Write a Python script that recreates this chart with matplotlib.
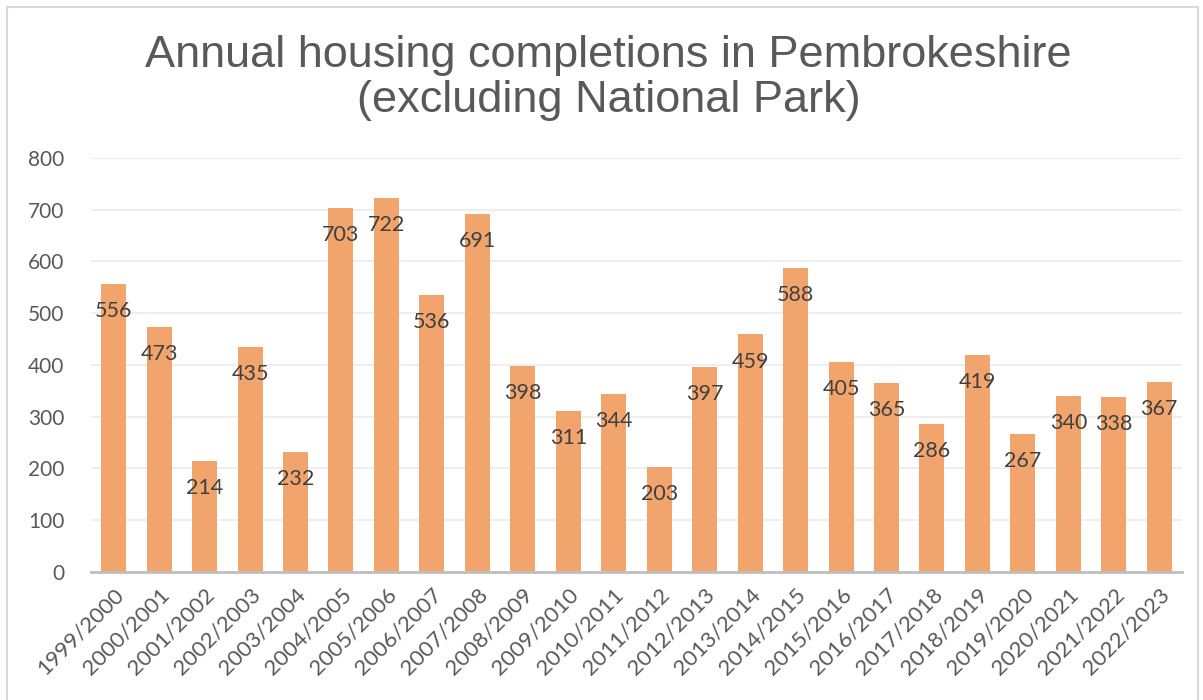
import numpy as np
from matplotlib import pyplot as plt
from matplotlib.patches import Rectangle

years = ['1999/2000', '2000/2001', '2001/2002', '2002/2003', '2003/2004',
         '2004/2005', '2005/2006', '2006/2007', '2007/2008', '2008/2009',
         '2009/2010', '2010/2011', '2011/2012', '2012/2013', '2013/2014',
         '2014/2015', '2015/2016', '2016/2017', '2017/2018', '2018/2019',
         '2019/2020', '2020/2021', '2021/2022', '2022/2023']
completions = [556, 473, 214, 435, 232, 703, 722, 536, 691, 398, 311, 344,
               203, 397, 459, 588, 405, 365, 286, 419, 267, 340, 338, 367]
yticks = [0, 100, 200, 300, 400, 500, 600, 700, 800]

grey = '#595959'
bar_colour = '#F1A46C'
plt.rcParams['font.family'] = ['Lato', 'DejaVu Sans']

fig = plt.figure(figsize=(12.03, 7.0), dpi=100)
ax = fig.add_axes([0.0756, 0.1829, 0.9069, 0.5914])

x = np.arange(len(years))
bars = ax.bar(x, completions, width=0.55, color=bar_colour, zorder=2)

for xi, v in zip(x, completions):
    ax.annotate(str(v), (xi, v), xytext=(0, -19.5), textcoords='offset points',
                ha='center', va='center', fontsize=15.5, color='#404040', zorder=3)

ax.set_ylim(0, 800)
ax.set_xlim(-0.5, len(years) - 0.5)
ax.set_yticks(yticks)
ax.set_yticklabels([str(t) for t in yticks], fontsize=15, color=grey)
ax.set_xticks(x)
ax.set_xticklabels(years, rotation=45, ha='right', rotation_mode='anchor',
                   fontsize=16, color=grey)
ax.tick_params(axis='both', length=0, pad=9)
ax.tick_params(axis='y', pad=19)
ax.yaxis.grid(True, color='#EBEBEB', linewidth=1.2, zorder=0)
ax.set_axisbelow(True)
for s in ['top', 'right', 'left']:
    ax.spines[s].set_visible(False)
ax.spines['bottom'].set_color('#BFBFBF')
ax.spines['bottom'].set_linewidth(2)
ax.spines['bottom'].set_zorder(4)

fig.text(0.506, 0.889, 'Annual housing completions in Pembrokeshire\n(excluding National Park)',
         ha='center', va='center', fontsize=32.5, color=grey,
         family='Liberation Sans', linespacing=1.12)

fig.patches.append(Rectangle((0.006, -0.01), 0.99, 1.0, transform=fig.transFigure,
                             fill=False, edgecolor='#D9D9D9', linewidth=1.5))

fig.savefig('out.png', dpi=100)
